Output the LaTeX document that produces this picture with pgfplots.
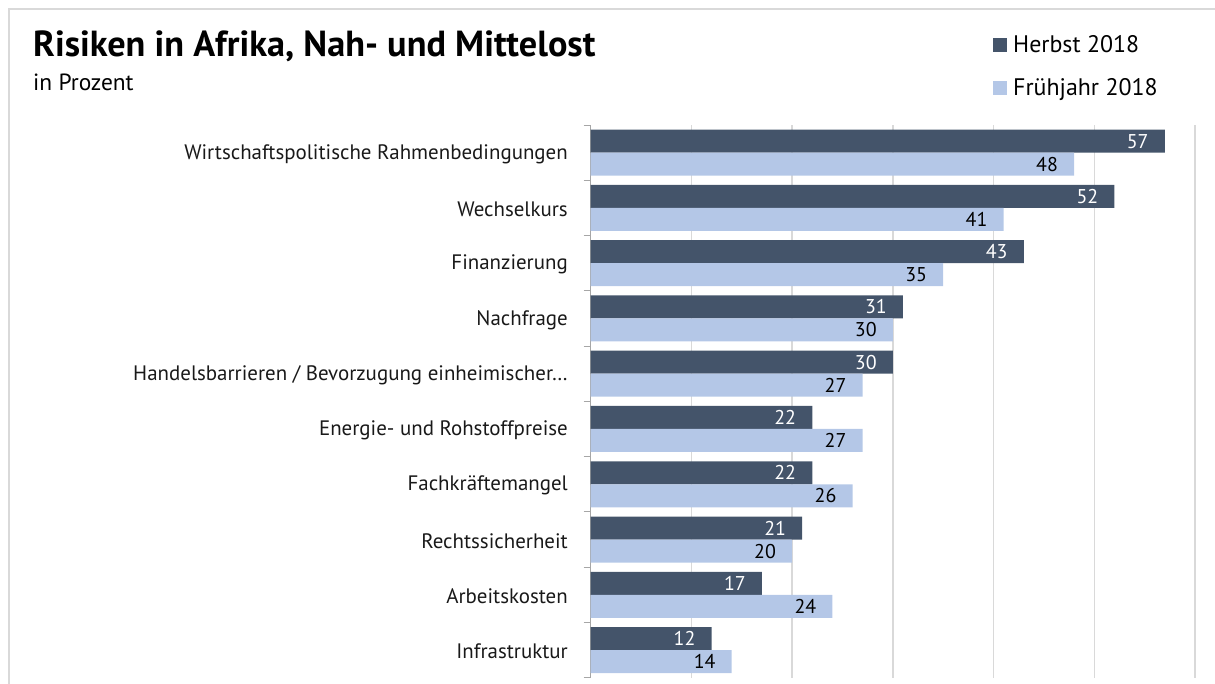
\documentclass[border=0pt]{standalone}
\usepackage{pgfplots}
\pgfplotsset{compat=1.18}
\usepackage{fontspec}
\setmainfont{PT Sans}
\definecolor{dark}{HTML}{44546A}
\definecolor{light}{HTML}{B4C7E7}
\definecolor{gridc}{HTML}{D9D9D9}
\begin{document}
\begin{tikzpicture}[x=1bp,y=1bp]
\useasboundingbox (0,0) rectangle (1215,-684);
\clip (0,0) rectangle (1215,-684);
\draw[gridc, line width=1.5bp] (9,-700) -- (9,-9) -- (1230,-9);
\node[anchor=base west, font=\fontsize{36.4}{42}\selectfont\bfseries, inner sep=0] at (33,-57) {Risiken in Afrika, Nah- und Mittelost};
\node[anchor=base west, font=\fontsize{23.5}{27}\selectfont, inner sep=0] at (33,-91) {in Prozent};
\fill[dark] (993,-38) rectangle ++(14,-14);
\node[anchor=base west, font=\fontsize{24}{28}\selectfont, inner sep=0] at (1013,-53) {Herbst 2018};
\fill[light] (993,-81) rectangle ++(14,-14);
\node[anchor=base west, font=\fontsize{24}{28}\selectfont, inner sep=0] at (1013,-96) {Frühjahr 2018};
\begin{axis}[
  at={(892.85bp,-401.35bp)}, anchor=center,
  scale only axis, width=604.3bp, height=552.7bp,
  xmin=0, xmax=60, ymin=-0.5, ymax=9.5,
  y dir=reverse,
  xbar, bar width=23bp,
  axis y line*=left, axis x line*=bottom,
  x axis line style={draw=none},
  y axis line style={color=gray!70, line width=1bp},
  xtick={0,10,...,60}, xticklabels={},
  xmajorgrids, major grid style={gridc, line width=1.5bp},
  ytick={0,...,9},
  yticklabels={Wirtschaftspolitische Rahmenbedingungen, Wechselkurs, Finanzierung, Nachfrage, Handelsbarrieren / Bevorzugung einheimischer…, Energie- und Rohstoffpreise, Fachkräftemangel, Rechtssicherheit, Arbeitskosten, Infrastruktur},
  minor ytick={-0.5,0.5,...,9.5},
  major tick length=0pt, minor tick length=7bp, tick align=outside,
  minor tick style={color=gray!70, line width=1bp},
  yticklabel style={font=\fontsize{21}{25}\selectfont, inner sep=0pt, xshift=-22.7bp, yshift=-1.5bp, text=black!90},
  /pgf/number format/assume math mode=true,
  nodes near coords,
  every node near coord/.append style={anchor=east, inner sep=0pt, xshift=-16bp, font=\fontsize{20}{24}\selectfont},
  clip=false,
]
\addplot[fill=dark, draw=none, bar shift=11.5bp, every node near coord/.append style={text=white}] coordinates {(57,0) (52,1) (43,2) (31,3) (30,4) (22,5) (22,6) (21,7) (17,8) (12,9)};
\addplot[fill=light, draw=none, bar shift=-11.5bp, every node near coord/.append style={text=black}] coordinates {(48,0) (41,1) (35,2) (30,3) (27,4) (27,5) (26,6) (20,7) (24,8) (14,9)};
\end{axis}
\end{tikzpicture}
\end{document}
